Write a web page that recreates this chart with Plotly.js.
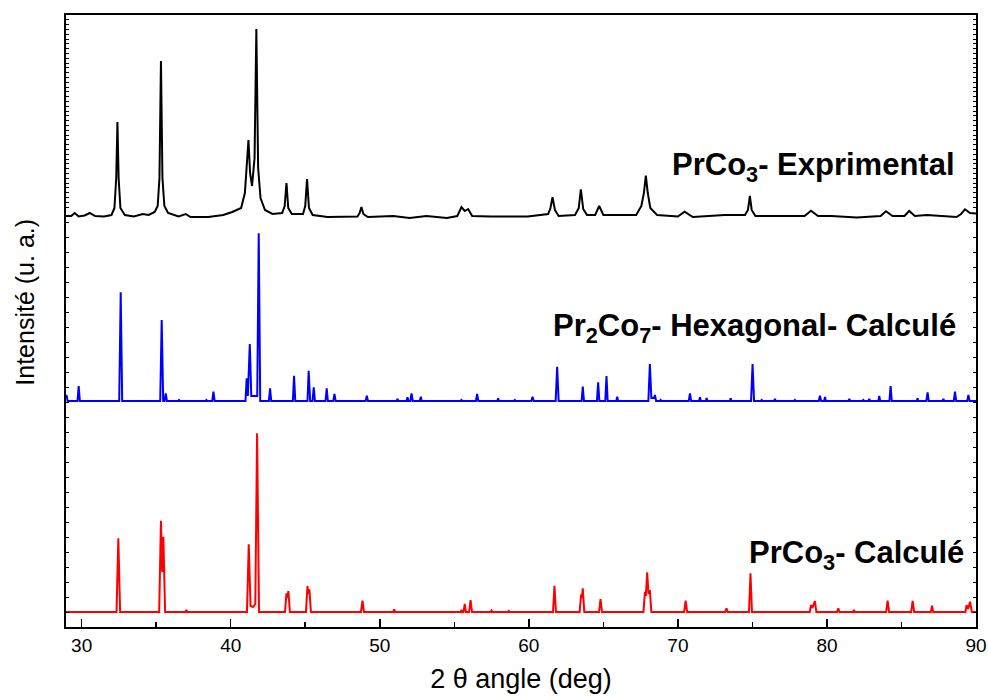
<!DOCTYPE html>
<html>
<head>
<meta charset="utf-8">
<script src="https://cdn.plot.ly/plotly-3.0.1.min.js"></script>
<style>
  html, body { margin: 0; padding: 0; background: #fff; }
  #chart { width: 988px; height: 696px; }
</style>
</head>
<body>
<div id="chart"></div>
<script>
// ---------------- DATA ----------------
// PrCo3 - experimental pattern (intensity above its own baseline, a.u.)
const expTheta = [
  28.95, 29.3, 29.53, 29.8, 30.2, 30.54, 30.9, 31.5,
  32.0, 32.2, 32.32, 32.4, 32.48, 32.6, 32.9, 33.5, 34.1, 34.5,
  34.9, 35.1, 35.22, 35.32, 35.42, 35.55, 35.8, 36.5, 36.98, 37.3, 38.5, 39.5, 40.1,
  40.7, 40.95, 41.08, 41.19, 41.3, 41.43, 41.6, 41.72, 41.84, 42.0, 42.3, 42.8,
  43.45, 43.62, 43.74, 43.86, 44.1, 44.85, 45.0, 45.12, 45.25, 45.5, 46.5,
  48.5, 48.65, 48.77, 48.9, 49.2, 50.9, 52.0, 53.13, 54.5,
  55.2, 55.48, 55.7, 55.93, 56.2, 57.43, 59.93,
  61.3, 61.45, 61.59, 61.75, 62.0, 63.1, 63.35, 63.49, 63.65, 63.9, 64.45, 64.72, 65.0,
  67.2, 67.55, 67.72, 67.85, 67.98, 68.15, 68.6, 70.0, 70.45, 70.6, 71.0, 73.15,
  74.5, 74.7, 74.83, 74.95, 75.2, 78.5, 78.93, 79.4, 80.3, 82.0,
  83.6, 83.96, 84.4, 85.2, 85.52, 85.9, 86.69, 88.7, 89.0, 89.26, 89.6, 90.0
];
const expIntensity = [
  2, 2, 5, 1.5, 2.5, 5, 2, 1.5,
  3, 10, 40, 96, 40, 10, 3, 1.5, 4, 3,
  6, 12, 40, 157, 40, 12, 5, 1.5, 4, 1, 1, 3, 6,
  10, 25, 50, 78, 45, 32, 60, 189, 50, 20, 8, 4,
  5, 12, 35, 10, 4, 4, 12, 39, 10, 3, 1,
  1.5, 5, 11, 4, 1, 2, 0, 2, 0,
  2, 11, 7, 9, 2, 1.5, 1.5,
  4, 10, 20.7, 8, 2, 3, 10, 28.7, 9, 3, 3, 12, 3,
  3, 12, 25, 42.3, 25, 10, 3, 1.5, 6.3, 5, 1, 3,
  3, 8, 22, 8, 2, 2, 7.3, 2, 2, 0.5,
  2, 6.7, 2, 2, 7, 2, 3, 1, 4, 8.7, 5, 4.5
];

// Pr2Co7 - hexagonal, calculated pattern
const hexTheta = [
  28.95, 28.98, 29.06,  29.72, 29.80, 29.88,  32.52, 32.62, 32.72,
  35.27, 35.37, 35.47,  35.56, 35.64, 35.72,  36.47, 36.53, 36.59,
  38.31, 38.37, 38.43,  38.76, 38.84, 38.92,
  40.99, 41.07, 41.15, 41.28, 41.38, 41.78, 41.88, 41.98,
  42.56, 42.64, 42.72,  44.17, 44.25, 44.33,  45.15, 45.23, 45.33,
  45.49, 45.57, 45.65,  46.36, 46.44, 46.52,  46.88, 46.96, 47.04,
  49.05, 49.13, 49.21,  51.13, 51.19, 51.25,  51.80, 51.86, 51.92,
  52.05, 52.13, 52.21,  52.69, 52.75, 52.81,  55.42, 55.48, 55.54,
  56.45, 56.53, 56.61,  57.88, 57.94, 58.00,  59.00, 59.06, 59.12,
  60.17, 60.25, 60.33,  61.80, 61.90, 62.00,  63.54, 63.62, 63.70,
  64.57, 64.65, 64.73,  65.13, 65.21, 65.29,  65.87, 65.93, 65.99,
  68.02, 68.12, 68.22, 68.40, 68.46, 68.54,  68.80, 68.84, 68.90,
  70.73, 70.81, 70.89,  71.42, 71.48, 71.54,  71.87, 71.93, 71.99,
  73.48, 73.54, 73.60,  74.91, 75.01, 75.11,  75.56, 75.62, 75.68,
  76.45, 76.51, 76.57,  77.79, 77.85, 77.91,  79.45, 79.53, 79.61,
  79.81, 79.87, 79.93,  81.44, 81.50, 81.56,  82.38, 82.44, 82.50,
  82.78, 82.84, 82.90,  83.45, 83.51, 83.57,  84.19, 84.27, 84.35,
  86.02, 86.08, 86.14,  86.67, 86.75, 86.83,  87.75, 87.81, 87.87,
  88.51, 88.59, 88.67,  89.41, 89.49, 89.57,  90.0
];
const hexIntensity = [
  4, 6, 0,  0, 15, 0,  0, 108.7, 0,
  0, 81, 0,  0, 7.7, 0,  0, 1, 0,
  0, 1, 0,  0, 9.3, 0,
  0, 22.7, 5, 57, 5, 5, 167.7, 0,
  0, 12.7, 0,  0, 25.3, 0,  0, 30.3, 0,
  0, 13.7, 0,  0, 12.7, 0,  0, 7, 0,
  0, 5.3, 0,  0, 2, 0,  0, 3.7, 0,
  0, 7.7, 0,  0, 4.3, 0,  0, 1, 0,
  0, 7, 0,  0, 2.7, 0,  0, 1, 0,
  0, 4.3, 0,  0, 34.3, 0,  0, 14.3, 0,
  0, 18.7, 0,  0, 25, 0,  0, 4.3, 0,
  0, 37, 3, 3, 6, 0,  0, 1, 0,
  0, 7.7, 0,  0, 3.7, 0,  0, 3, 0,
  0, 2.7, 0,  0, 37, 0,  0, 1, 0,
  0, 2, 0,  0, 1, 0,  0, 5.3, 0,
  0, 4, 0,  0, 2, 0,  0, 1, 0,
  0, 2, 0,  0, 5, 0,  0, 15, 0,
  0, 2.7, 0,  0, 8.7, 0,  0, 2, 0,
  0, 9.3, 0,  0, 6, 0,  0
];

// PrCo3 - calculated pattern
const calcTheta = [
  28.95,  32.34, 32.46, 32.58,  35.20, 35.32, 35.40, 35.48, 35.60,  36.95, 37.02, 37.10,
  41.09, 41.21, 41.33, 41.50, 41.65, 41.77, 41.90,
  43.64, 43.74, 43.80, 43.87, 43.97,  45.05, 45.15, 45.21, 45.28, 45.38,
  48.74, 48.84, 48.94,  50.90, 50.96, 51.04,  55.42, 55.48, 55.54,
  55.62, 55.70, 55.78,  55.99, 56.09, 56.19,  57.44, 57.50, 57.58,
  58.60, 58.66, 58.72,  61.62, 61.72, 61.82,  63.41, 63.51, 63.56, 63.62, 63.72,
  64.71, 64.81, 64.91,  67.69, 67.79, 67.85, 67.94, 68.03, 68.12, 68.22,
  70.42, 70.52, 70.62,  73.18, 73.26, 73.34,  74.77, 74.87, 74.97,
  78.85, 78.93, 79.02, 79.19, 79.29,  80.68, 80.76, 80.84,  81.75, 81.81, 81.87,
  83.97, 84.07, 84.17,  85.65, 85.75, 85.85,  86.97, 87.05, 87.13,
  89.29, 89.37, 89.47, 89.60, 89.72,  90.0
];
const calcIntensity = [
  0,  0, 73.7, 0,  0, 91.3, 40, 75.3, 0,  0, 2, 0,
  0, 67.7, 6, 5, 8, 178.7, 0,
  0, 18.7, 14, 21, 0,  0, 26, 18, 22.7, 0,
  0, 11.3, 0,  0, 2.7, 0,  0, 2, 0,
  0, 8, 0,  0, 12, 0,  0, 1.5, 0,
  0, 1, 0,  0, 26.3, 0,  0, 17.7, 14, 23.7, 0,
  0, 13, 0,  0, 20.3, 16, 39.7, 18, 22, 0,
  0, 11.3, 0,  0, 3.7, 0,  0, 38.7, 0,
  0, 7, 4, 11, 0,  0, 3.7, 0,  0, 2, 0,
  0, 11.3, 0,  0, 11, 0,  0, 6.3, 0,
  0, 7, 3, 10.3, 0,  0
];

// labels of the three patterns
const seriesNames = ['PrCo<sub>3</sub>- Exprimental',
                     'Pr<sub>2</sub>Co<sub>7</sub>- Hexagonal- Calculé',
                     'PrCo<sub>3</sub>- Calculé'];
const xTickValues = [30, 40, 50, 60, 70, 80, 90];

// vertical stacking offsets of the three patterns (a.u.)
const offsetExp = 409, offsetHex = 226, offsetCalc = 15;

// -----------------------------------------------------------------------
const shift = (arr, off) => arr.map(v => v + off);

const traces = [
  { x: expTheta, y: shift(expIntensity, offsetExp), name: seriesNames[0],
    type: 'scatter', mode: 'lines', line: { color: '#000000', width: 2 }, hoverinfo: 'skip' },
  { x: hexTheta, y: shift(hexIntensity, offsetHex), name: seriesNames[1],
    type: 'scatter', mode: 'lines', line: { color: '#0000ff', width: 2 }, hoverinfo: 'skip' },
  { x: calcTheta, y: shift(calcIntensity, offsetCalc), name: seriesNames[2],
    type: 'scatter', mode: 'lines', line: { color: '#ff0000', width: 2 }, hoverinfo: 'skip' }
];

// y tick marks (no labels): sparse lower part, dense upper part
const yTicks = [];
for (let v = 15; v <= 420.5; v += 15) yTicks.push(v);
for (let v = 424.8; v <= 612; v += 4.8) yTicks.push(v);

const xRange = [28.95, 90];
const tickFont = { family: 'Liberation Sans, Arial, sans-serif', size: 19, color: '#000' };
const labelFont = { family: 'Liberation Sans, Arial, sans-serif', size: 31, color: '#000' };

const layout = {
  width: 988, height: 696,
  margin: { l: 66, r: 12, t: 15, b: 69 },
  paper_bgcolor: '#ffffff', plot_bgcolor: '#ffffff',
  showlegend: false,
  xaxis: {
    range: xRange, tickvals: xTickValues, ticks: 'inside', ticklen: 8, tickwidth: 1.5, tickcolor: '#000',
    minor: { dtick: 5, tick0: 0, ticks: 'inside', ticklen: 5, tickwidth: 1.5, tickcolor: '#000' },
    showline: true, linewidth: 2, linecolor: '#000', mirror: true,
    showgrid: false, zeroline: false, tickfont: tickFont,
    title: { text: '2 θ angle (deg)', font: { family: tickFont.family, size: 27, color: '#000' }, standoff: 14 }
  },
  xaxis2: {
    overlaying: 'x', side: 'top', anchor: 'y', range: xRange,
    tick0: 0, dtick: 5, ticks: 'inside', ticklen: 3, tickwidth: 1.5, tickcolor: '#000',
    showticklabels: false, showline: false, showgrid: false, zeroline: false
  },
  yaxis: {
    range: [0, 612], tickvals: yTicks, ticks: 'inside', ticklen: 3, tickwidth: 1, tickcolor: '#000',
    showticklabels: false, showline: true, linewidth: 2, linecolor: '#000', mirror: 'ticks',
    showgrid: false, zeroline: false
  },
  annotations: [
    { text: 'Intensité (u. a.)', xref: 'paper', yref: 'paper', x: -0.045, y: 0.53,
      xanchor: 'center', yanchor: 'middle', textangle: -90, showarrow: false,
      font: { family: 'Liberation Sans, Arial, sans-serif', size: 25, color: '#000' } },
    { text: '<b>' + seriesNames[0] + '</b>', x: 88.72, y: 460, xref: 'x', yref: 'y',
      xanchor: 'right', yanchor: 'middle', showarrow: false, font: labelFont },
    { text: '<b>' + seriesNames[1] + '</b>', x: 88.79, y: 299, xref: 'x', yref: 'y',
      xanchor: 'right', yanchor: 'middle', showarrow: false, font: labelFont },
    { text: '<b>' + seriesNames[2] + '</b>', x: 89.31, y: 72, xref: 'x', yref: 'y',
      xanchor: 'right', yanchor: 'middle', showarrow: false, font: labelFont }
  ]
};

Plotly.newPlot('chart', traces, layout, { staticPlot: true, displayModeBar: false });
</script>
</body>
</html>
